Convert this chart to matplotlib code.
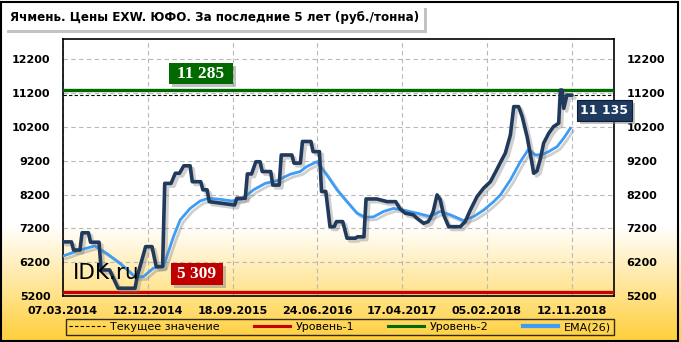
import numpy as np
import matplotlib
matplotlib.use("Agg")
import matplotlib.pyplot as plt
import matplotlib.patheffects as pe
from matplotlib.patches import Rectangle
from matplotlib.lines import Line2D

# Price (weekly index -> rub/ton)
price_week = [0, 4, 5, 8, 9, 12, 13, 17, 18, 22, 26, 34, 35, 39, 42, 44, 47, 48, 51, 53,
              55, 57, 60, 61, 65, 66, 68, 69, 81, 82, 86, 87, 89, 91, 93, 94, 98, 99, 102, 103,
              108, 109, 112, 113, 117, 118, 121, 122, 124, 126, 128, 129, 132, 134, 138, 139, 142, 143, 148, 153,
              157, 159, 161.5, 165.3, 167, 170.2, 172.4, 173.3, 174.7, 176.5, 178, 179.6, 182, 187.5, 189.8, 192.2, 195.4, 198.5, 201.7, 204.8,
              206.4, 208.7, 211.1, 212.7, 215, 216.7, 219, 221.3, 222.1, 223.7, 225.3, 226.8, 229.2, 231.5, 233.9, 234.7, 235.5, 236.3, 237.8, 240.2]
price_val = [6800, 6800, 6560, 6560, 7070, 7070, 6790, 6790, 5970, 5970, 5430, 5430, 5770, 6660, 6660, 6070, 6070, 8530, 8530, 8830,
             8830, 9050, 9050, 8580, 8580, 8340, 8340, 7990, 7890, 8090, 8090, 8810, 8810, 9170, 9170, 8880, 8880, 8480, 8480, 9370,
             9370, 9130, 9130, 9770, 9770, 9470, 9470, 8290, 8290, 7250, 7250, 7400, 7400, 6910, 6910, 6950, 6950, 8070, 8070, 7990,
             7990, 7780, 7650, 7600, 7500, 7350, 7400, 7500, 7700, 8190, 8050, 7600, 7250, 7250, 7400, 7740, 8140, 8390, 8580, 8950,
             9150, 9420, 9960, 10800, 10800, 10500, 9910, 9130, 8830, 8900, 9270, 9720, 10010, 10210, 10310, 11290, 11290, 10750, 11145, 11135]

# EMA(26)
ema_week = [0, 8, 15, 20.6, 26.9, 34, 37.9, 42.6, 47.4, 52.1, 55.3, 60, 64.7, 68.6, 74.1, 79.7, 84.4, 89.9, 95.4, 100.9,
            107.2, 111.9, 115.1, 119.8, 124.5, 129.3, 134, 138.7, 142.6, 146.5, 151.3, 156, 160.7, 167, 173.3, 178, 182.8, 189, 193.8, 198.5,
            203.2, 206.4, 211.1, 215.8, 219.7, 222.9, 226.1, 229.2, 233.2, 236.3, 239.4]
ema_val = [6380, 6560, 6680, 6460, 6170, 5770, 5770, 6020, 6070, 6950, 7450, 7790, 8010, 8090, 8060, 8010, 8060, 8340, 8530, 8610,
           8800, 8880, 9030, 9170, 8780, 8340, 7990, 7650, 7530, 7540, 7700, 7790, 7740, 7650, 7550, 7700, 7600, 7430, 7550, 7740,
           7990, 8190, 8630, 9170, 9540, 9370, 9380, 9470, 9620, 9870, 10160]

current_value = 11135
level_1 = 5309
level_2 = 11285

date_labels = ['07.03.2014', '12.12.2014', '18.09.2015', '24.06.2016',
               '17.04.2017', '05.02.2018', '12.11.2018']
label_step = 40
y_ticks = [5200, 6200, 7200, 8200, 9200, 10200, 11200, 12200]

W, H = 681, 342
fig = plt.figure(figsize=(W / 100, H / 100), dpi=100)

def fx(px):
    return px / W

def fy(py):
    return 1 - py / H

# background gradient: white on top, gold at the bottom
bg = fig.add_axes([0, 0, 1, 1], zorder=-10)
rows = np.arange(H)
t = np.clip((rows - 225) / (H - 225), 0, 1)
white = np.array([1.0, 1.0, 1.0])
gold = np.array([1.0, 0.81, 0.22])
grad = white[None, :] * (1 - t[:, None]) + gold[None, :] * t[:, None]
bg.imshow(grad[:, None, :], aspect='auto', extent=[0, 1, 0, 1])
bg.add_patch(Rectangle((0.002, 0.004), 0.994, 0.99, fill=False, lw=1.5, ec='black'))
bg.set_axis_off()

ax = fig.add_axes([fx(63), fy(296), fx(614) - fx(63), fy(39) - fy(296)])
ax.set_facecolor('none')

shadow = [pe.SimpleLineShadow(offset=(2, -2), shadow_color='#777777', alpha=0.35), pe.Normal()]

ax.axhline(current_value, color='black', lw=0.8, ls=(0, (3, 2)), zorder=3)
ax.axhline(level_2, color='#006a00', lw=2.4, zorder=3)
ax.axhline(level_1, color='#c80000', lw=2.4, zorder=3)
ax.plot(ema_week, ema_val, color='#3d9cf5', lw=2.0, zorder=4, path_effects=shadow)
ax.plot(price_week, price_val, color='#213a5c', lw=2.6, zorder=5, path_effects=shadow,
        solid_joinstyle='round', solid_capstyle='round')

ax.set_xlim(0, 260)
ax.set_ylim(5200, 12800)
ax.set_yticks(y_ticks)
ax.set_xticks(np.arange(len(date_labels)) * label_step)
ax.set_xticklabels(date_labels)
ax.grid(True, color='#b8b8b8', ls=(0, (4, 3)), lw=0.8)
ax.tick_params(axis='y', length=0, labelleft=True, labelright=True, pad=9, labelsize=8)
ax.tick_params(axis='x', length=0, pad=7, labelsize=8)
for lab in ax.get_xticklabels() + ax.get_yticklabels():
    lab.set_fontweight('bold')
for s in ax.spines.values():
    s.set_color('black')
    s.set_linewidth(1.2)

ax.text(0.018, 0.065, 'IDK.ru', transform=ax.transAxes, fontsize=15.5, color='black', zorder=6)

def boxed(x0, y0, x1, y1, color, ec='none'):
    fig.patches.append(Rectangle((fx(x0 + 3), fy(y1 + 3)), fx(x1 - x0), fy(y0) - fy(y1),
                                 transform=fig.transFigure, fc='#888888', alpha=0.5, ec='none', zorder=15))
    fig.patches.append(Rectangle((fx(x0), fy(y1)), fx(x1 - x0), fy(y0) - fy(y1),
                                 transform=fig.transFigure, fc=color, ec=ec, lw=0.8, zorder=16))

boxed(169, 63, 233, 84, '#006a00')
fig.text(fx(201), fy(73.5), f'{level_2:,}'.replace(',', ' '), color='white', fontsize=12.5,
         fontweight='bold', family='Liberation Serif', ha='center', va='center', zorder=20)
boxed(171, 263, 223, 285, '#c00000')
fig.text(fx(197), fy(274), f'{level_1:,}'.replace(',', ' '), color='white', fontsize=12.5,
         fontweight='bold', family='Liberation Serif', ha='center', va='center', zorder=20)
boxed(577, 100, 632, 121, '#1f3a5f', ec='#0d1d33')
fig.text(fx(604.5), fy(110.5), f'{current_value:,}'.replace(',', ' '), color='white', fontsize=9,
         fontweight='bold', ha='center', va='center', zorder=20)

# title
boxed(4, 5, 424, 30, 'white')
fig.text(fx(10), fy(17.5), 'Ячмень. Цены EXW. ЮФО. За последние 5 лет (руб./тонна)',
         fontsize=9.5, fontweight='bold', fontstretch='condensed', ha='left', va='center', zorder=20)

# legend
handles = [Line2D([], [], color='black', lw=0.8, ls=(0, (3, 2))),
           Line2D([], [], color='#c80000', lw=2.2),
           Line2D([], [], color='#006a00', lw=2.2),
           Line2D([], [], color='#3d9cf5', lw=3)]
names = ['Текущее значение', 'Уровень-1', 'Уровень-2', 'EMA(26)']
leg = fig.legend(handles, names, ncol=4, loc='center', bbox_to_anchor=(fx(340), fy(327)),
                 fontsize=8, frameon=True, fancybox=False, shadow=False, handlelength=3.2,
                 handletextpad=0.5, columnspacing=3.1, borderpad=0.3)
leg.get_frame().set_edgecolor('black')
leg.get_frame().set_facecolor('none')
leg.get_frame().set_linewidth(1.0)

fig.savefig('out.png', dpi=100)
